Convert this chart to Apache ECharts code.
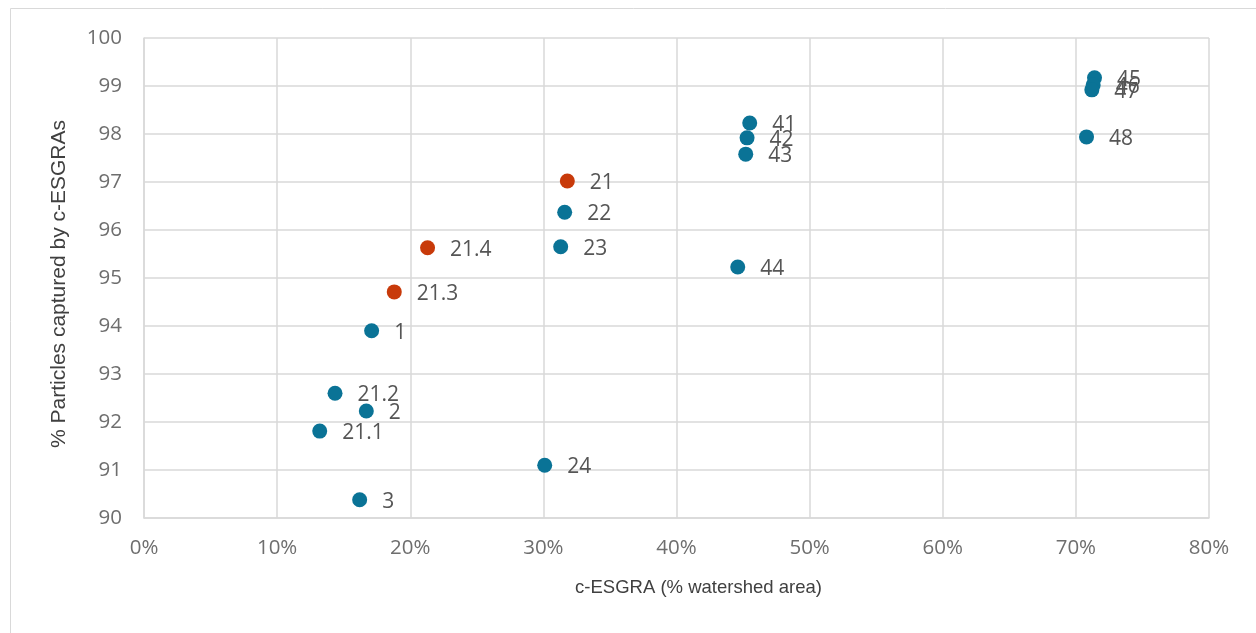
<!DOCTYPE html>
<html>
<head>
<meta charset="utf-8">
<script src="https://cdn.jsdelivr.net/npm/echarts@6/dist/echarts.min.js"></script>
<style>html,body{margin:0;padding:0;background:#fff}#c{width:1256px;height:633px}</style>
</head>
<body>
<div id="c"></div>
<script>
// Blue series: [x (fraction of watershed), y (% particles captured), label]
const blueNames = ['45','46','47','48','41','42','43','44','22','23','1','21.2','2','21.1','24','3'];
const blueX = [0.714,0.713,0.712,0.708,0.455,0.453,0.452,0.446,0.316,0.313,0.171,0.1435,0.167,0.132,0.301,0.162];
const blueY = [99.17,99.02,98.92,97.94,98.23,97.92,97.58,95.23,96.37,95.65,93.9,92.6,92.23,91.81,91.1,90.38];
// Red series
const redNames = ['21','21.4','21.3'];
const redX = [0.318,0.213,0.188];
const redY = [97.02,95.63,94.71];
const xTicks = ['0%','10%','20%','30%','40%','50%','60%','70%','80%'];

const toData = (xs, ys, ns) => xs.map((x, i) => [x, ys[i], ns[i]]);
const label = {
  show: true, position: 'right', distance: 15, offset: [0, 2],
  formatter: p => p.data[2],
  color: '#555555', fontSize: 21, fontFamily: 'Open Sans'
};
const chart = echarts.init(document.getElementById('c'));
chart.setOption({
  animation: false,
  graphic: [{type: 'rect', shape: {x: 10.5, y: 8.5, width: 1300, height: 700},
    style: {fill: 'none', stroke: '#d9d9d9', lineWidth: 1}, silent: true}],
  grid: {left: 144, right: 47, top: 38, bottom: 115},
  xAxis: {
    type: 'value', min: 0, max: 0.8, interval: 0.1,
    name: 'c-ESGRA (% watershed area)', nameLocation: 'middle', nameGap: 60,
    nameTextStyle: {color: '#404040', fontSize: 18.5, fontFamily: 'Liberation Sans', padding: [0, 0, 0, 44]},
    axisLine: {show: true, lineStyle: {color: '#d9d9d9', width: 1.5}},
    axisTick: {show: false},
    splitLine: {show: true, lineStyle: {color: '#d9d9d9', width: 1.5}},
    axisLabel: {color: '#6e6e6e', fontSize: 20.5, fontFamily: 'Open Sans', margin: 20,
      formatter: v => xTicks[Math.round(v * 10)]}
  },
  yAxis: {
    type: 'value', min: 90, max: 100, interval: 1,
    name: '% Particles captured by c-ESGRAs', nameLocation: 'middle', nameGap: 74,
    nameTextStyle: {color: '#404040', fontSize: 21, fontFamily: 'Liberation Sans', padding: [0, 12, 0, 0]},
    axisLine: {show: true, lineStyle: {color: '#d9d9d9', width: 1.5}},
    axisTick: {show: false},
    splitLine: {show: true, lineStyle: {color: '#d9d9d9', width: 1.5}},
    axisLabel: {color: '#6e6e6e', fontSize: 20.5, fontFamily: 'Open Sans', margin: 22}
  },
  series: [
    {type: 'scatter', symbolSize: 15, itemStyle: {color: '#0a7396', opacity: 1},
     data: toData(blueX, blueY, blueNames), label: label},
    {type: 'scatter', symbolSize: 15, itemStyle: {color: '#c83a0a', opacity: 1},
     data: toData(redX, redY, redNames), label: label}
  ]
});
</script>
</body>
</html>
